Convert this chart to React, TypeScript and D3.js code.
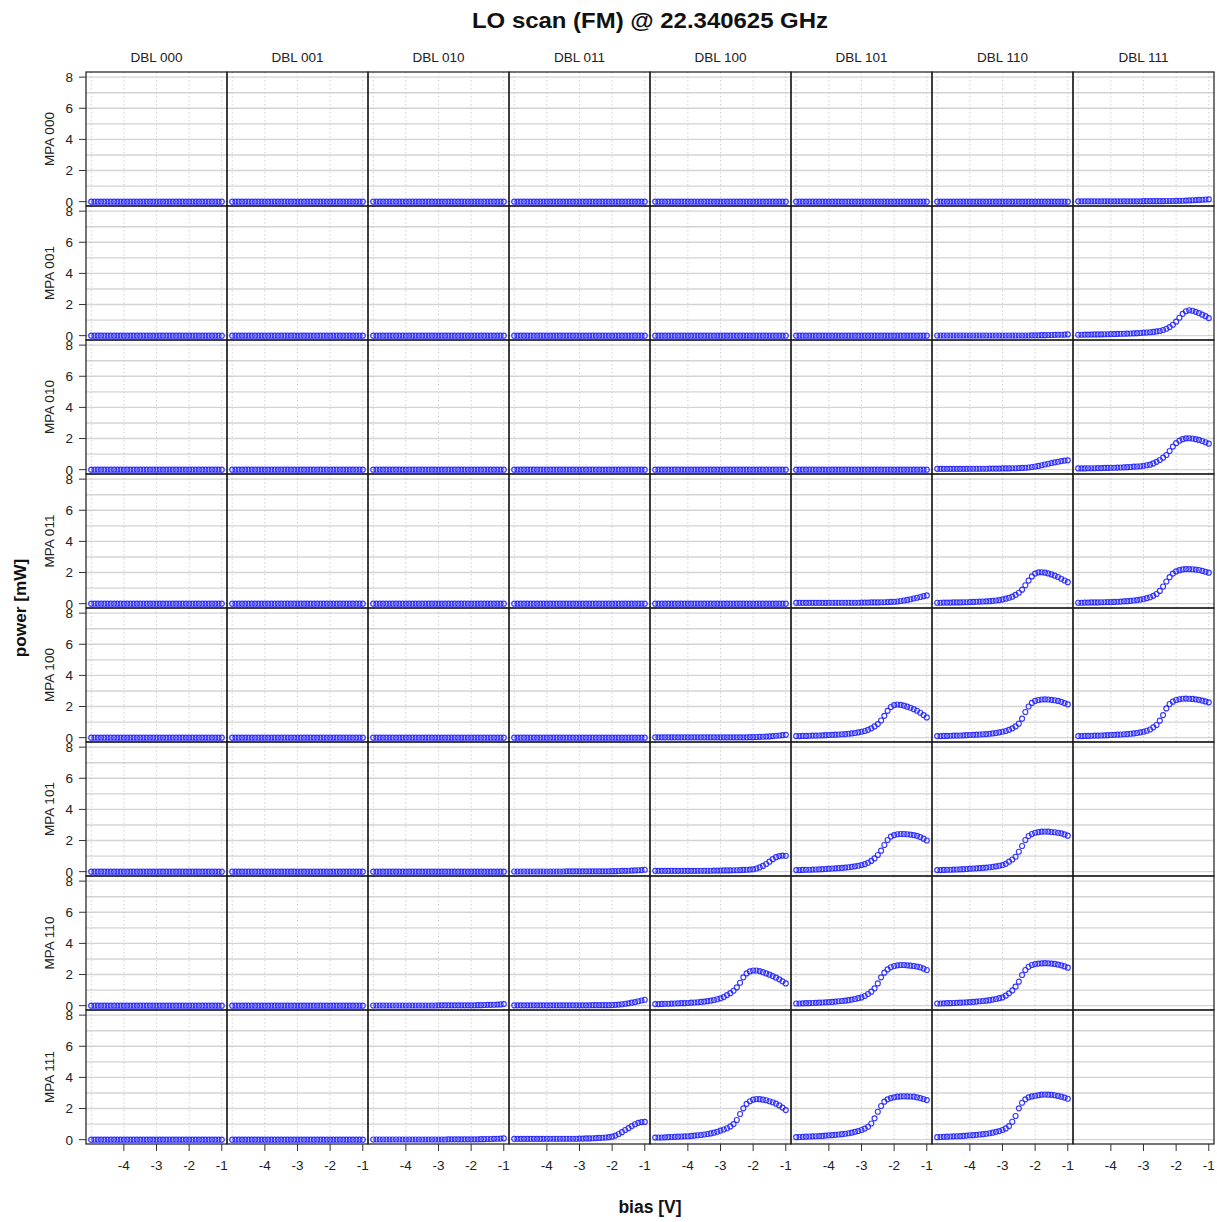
import React from "react";
import * as d3 from "d3";

// ---- labels / ticks ----
const title = "LO scan (FM) @ 22.340625 GHz";
const xLabel = "bias [V]";
const yLabel = "power [mW]";
const rowLabels = ["MPA 000", "MPA 001", "MPA 010", "MPA 011", "MPA 100", "MPA 101", "MPA 110", "MPA 111"];
const colLabels = ["DBL 000", "DBL 001", "DBL 010", "DBL 011", "DBL 100", "DBL 101", "DBL 110", "DBL 111"];
const yTicks = [0, 2, 4, 6, 8];
const yGrid = [0, 1, 2, 3, 4, 5, 6, 7, 8];
const xTicks = [-4, -3, -2, -1];
const xGrid = [-5, -4, -3, -2, -1];

// ---- bias sweep (V) ----
const bias = [
  -5, -4.9, -4.8, -4.7, -4.6, -4.5, -4.4, -4.3, -4.2, -4.1,
  -4, -3.9, -3.8, -3.7, -3.6, -3.5, -3.4, -3.3, -3.2, -3.1,
  -3, -2.9, -2.8, -2.7, -2.6, -2.5, -2.4, -2.3, -2.2, -2.1,
  -2, -1.9, -1.8, -1.7, -1.6, -1.5, -1.4, -1.3, -1.2, -1.1, -1,
];

// ---- power (mW) per panel ----
const flat = [
  0, 0, 0, 0, 0, 0, 0, 0, 0, 0,
  0, 0, 0, 0, 0, 0, 0, 0, 0, 0,
  0, 0, 0, 0, 0, 0, 0, 0, 0, 0,
  0, 0, 0, 0, 0, 0, 0, 0, 0, 0, 0,
];
const mpa000_dbl111 = [
  0.02, 0.02, 0.02, 0.02, 0.02, 0.02, 0.02, 0.02, 0.02, 0.02,
  0.02, 0.02, 0.02, 0.02, 0.02, 0.02, 0.02, 0.02, 0.02, 0.02,
  0.03, 0.03, 0.03, 0.03, 0.03, 0.03, 0.03, 0.04, 0.04, 0.04,
  0.05, 0.05, 0.06, 0.07, 0.08, 0.09, 0.1, 0.11, 0.12, 0.14, 0.15,
];
const mpa001_dbl110 = [
  0.01, 0.01, 0.01, 0.01, 0.01, 0.01, 0.01, 0.01, 0.01, 0.01,
  0.01, 0.01, 0.01, 0.01, 0.01, 0.01, 0.01, 0.01, 0.01, 0.01,
  0.01, 0.01, 0.01, 0.01, 0.01, 0.01, 0.01, 0.01, 0.01, 0.02,
  0.02, 0.02, 0.03, 0.03, 0.04, 0.04, 0.05, 0.06, 0.06, 0.07, 0.08,
];
const mpa001_dbl111 = [
  0.06, 0.06, 0.07, 0.07, 0.07, 0.08, 0.08, 0.08, 0.09, 0.09,
  0.1, 0.1, 0.11, 0.12, 0.12, 0.13, 0.14, 0.15, 0.16, 0.17,
  0.19, 0.2, 0.22, 0.24, 0.27, 0.3, 0.36, 0.44, 0.55, 0.7,
  0.9, 1.15, 1.4, 1.57, 1.63, 1.6, 1.53, 1.45, 1.35, 1.25, 1.13,
];
const mpa010_dbl110 = [
  0.05, 0.05, 0.05, 0.05, 0.05, 0.05, 0.05, 0.05, 0.05, 0.05,
  0.06, 0.06, 0.06, 0.06, 0.06, 0.06, 0.07, 0.07, 0.07, 0.07,
  0.08, 0.08, 0.08, 0.09, 0.09, 0.1, 0.11, 0.12, 0.14, 0.17,
  0.2, 0.24, 0.28, 0.33, 0.38, 0.43, 0.47, 0.51, 0.55, 0.58, 0.6,
];
const mpa010_dbl111 = [
  0.08, 0.08, 0.08, 0.09, 0.09, 0.09, 0.1, 0.1, 0.11, 0.11,
  0.12, 0.12, 0.13, 0.14, 0.15, 0.16, 0.17, 0.19, 0.2, 0.22,
  0.25, 0.28, 0.32, 0.4, 0.5, 0.62, 0.77, 0.94, 1.2, 1.48,
  1.7, 1.86, 1.96, 2.01, 2.02, 2.0, 1.96, 1.91, 1.84, 1.76, 1.67,
];
const mpa011_dbl101 = [
  0.05, 0.05, 0.05, 0.05, 0.05, 0.05, 0.05, 0.05, 0.05, 0.05,
  0.06, 0.06, 0.06, 0.06, 0.06, 0.06, 0.06, 0.06, 0.06, 0.06,
  0.07, 0.07, 0.07, 0.08, 0.08, 0.08, 0.09, 0.09, 0.1, 0.11,
  0.12, 0.14, 0.17, 0.2, 0.24, 0.28, 0.33, 0.38, 0.43, 0.48, 0.53,
];
const mpa011_dbl110 = [
  0.06, 0.06, 0.07, 0.07, 0.07, 0.08, 0.08, 0.08, 0.09, 0.09,
  0.1, 0.11, 0.12, 0.13, 0.14, 0.15, 0.16, 0.18, 0.2, 0.23,
  0.27, 0.32, 0.38, 0.45, 0.56, 0.7, 0.9, 1.18, 1.48, 1.75,
  1.93, 2.01, 2.02, 1.99, 1.94, 1.88, 1.8, 1.71, 1.6, 1.49, 1.38,
];
const mpa011_dbl111 = [
  0.06, 0.06, 0.07, 0.07, 0.08, 0.08, 0.08, 0.09, 0.09, 0.1,
  0.1, 0.11, 0.12, 0.13, 0.15, 0.16, 0.18, 0.2, 0.23, 0.26,
  0.3, 0.35, 0.41, 0.5, 0.62, 0.82, 1.1, 1.42, 1.7, 1.93,
  2.07, 2.15, 2.2, 2.22, 2.22, 2.21, 2.19, 2.16, 2.11, 2.05, 1.99,
];
const mpa100_dbl100 = [
  0.02, 0.02, 0.02, 0.02, 0.02, 0.02, 0.02, 0.02, 0.02, 0.02,
  0.02, 0.02, 0.02, 0.02, 0.02, 0.02, 0.02, 0.02, 0.02, 0.02,
  0.02, 0.02, 0.02, 0.02, 0.02, 0.02, 0.02, 0.02, 0.02, 0.03,
  0.03, 0.04, 0.05, 0.06, 0.07, 0.08, 0.1, 0.12, 0.14, 0.16, 0.18,
];
const mpa100_dbl101 = [
  0.1, 0.1, 0.11, 0.11, 0.12, 0.13, 0.13, 0.14, 0.15, 0.16,
  0.17, 0.18, 0.19, 0.2, 0.22, 0.23, 0.25, 0.27, 0.3, 0.34,
  0.38, 0.43, 0.5, 0.6, 0.72, 0.87, 1.1, 1.4, 1.72, 1.97,
  2.09, 2.13, 2.11, 2.06, 1.99, 1.92, 1.83, 1.73, 1.6, 1.45, 1.3,
];
const mpa100_dbl110 = [
  0.1, 0.1, 0.11, 0.11, 0.12, 0.13, 0.13, 0.14, 0.15, 0.16,
  0.17, 0.18, 0.19, 0.2, 0.22, 0.23, 0.25, 0.27, 0.3, 0.34,
  0.38, 0.43, 0.5, 0.6, 0.72, 0.9, 1.22, 1.65, 2.0, 2.23,
  2.36, 2.42, 2.45, 2.46, 2.45, 2.43, 2.4, 2.36, 2.3, 2.22, 2.14,
];
const mpa100_dbl111 = [
  0.1, 0.1, 0.11, 0.11, 0.12, 0.13, 0.13, 0.14, 0.15, 0.16,
  0.17, 0.18, 0.19, 0.2, 0.22, 0.23, 0.25, 0.27, 0.3, 0.34,
  0.38, 0.44, 0.52, 0.66, 0.81, 1.09, 1.45, 1.88, 2.16, 2.31,
  2.42, 2.47, 2.5, 2.51, 2.5, 2.49, 2.46, 2.43, 2.38, 2.33, 2.27,
];
const mpa101_dbl011 = [
  0.01, 0.01, 0.01, 0.01, 0.01, 0.01, 0.01, 0.01, 0.01, 0.01,
  0.01, 0.01, 0.01, 0.01, 0.01, 0.01, 0.02, 0.02, 0.02, 0.02,
  0.02, 0.02, 0.02, 0.02, 0.02, 0.02, 0.02, 0.02, 0.02, 0.02,
  0.03, 0.03, 0.04, 0.05, 0.05, 0.06, 0.07, 0.08, 0.09, 0.1, 0.12,
];
const mpa101_dbl100 = [
  0.05, 0.05, 0.05, 0.05, 0.05, 0.05, 0.05, 0.05, 0.05, 0.05,
  0.05, 0.05, 0.05, 0.06, 0.06, 0.06, 0.06, 0.06, 0.07, 0.07,
  0.07, 0.08, 0.08, 0.08, 0.09, 0.09, 0.1, 0.11, 0.12, 0.13,
  0.15, 0.2, 0.27, 0.37, 0.49, 0.64, 0.8, 0.93, 1.0, 1.03, 1.02,
];
const mpa101_dbl101 = [
  0.1, 0.1, 0.11, 0.12, 0.12, 0.13, 0.14, 0.15, 0.16, 0.17,
  0.19, 0.2, 0.21, 0.23, 0.24, 0.26, 0.28, 0.31, 0.34, 0.38,
  0.42, 0.48, 0.57, 0.69, 0.85, 1.07, 1.35, 1.71, 2.03, 2.25,
  2.35, 2.4, 2.42, 2.42, 2.4, 2.38, 2.35, 2.3, 2.22, 2.12, 2.0,
];
const mpa101_dbl110 = [
  0.1, 0.1, 0.11, 0.12, 0.12, 0.13, 0.14, 0.15, 0.16, 0.17,
  0.19, 0.2, 0.21, 0.23, 0.24, 0.26, 0.28, 0.31, 0.34, 0.38,
  0.42, 0.5, 0.64, 0.78, 0.96, 1.28, 1.65, 2.03, 2.29, 2.42,
  2.5, 2.54, 2.57, 2.58, 2.57, 2.55, 2.53, 2.5, 2.46, 2.39, 2.31,
];
const mpa110_dbl010 = [
  0.01, 0.01, 0.01, 0.01, 0.01, 0.01, 0.01, 0.01, 0.01, 0.01,
  0.01, 0.01, 0.01, 0.01, 0.01, 0.01, 0.01, 0.01, 0.01, 0.01,
  0.02, 0.02, 0.02, 0.02, 0.02, 0.02, 0.02, 0.02, 0.02, 0.02,
  0.02, 0.02, 0.03, 0.03, 0.04, 0.05, 0.05, 0.06, 0.07, 0.08, 0.1,
];
const mpa110_dbl011 = [
  0.02, 0.02, 0.02, 0.02, 0.02, 0.02, 0.02, 0.02, 0.02, 0.02,
  0.02, 0.02, 0.02, 0.02, 0.02, 0.02, 0.02, 0.02, 0.02, 0.02,
  0.02, 0.02, 0.02, 0.02, 0.03, 0.03, 0.03, 0.03, 0.03, 0.03,
  0.04, 0.05, 0.07, 0.09, 0.12, 0.15, 0.19, 0.23, 0.28, 0.33, 0.38,
];
const mpa110_dbl100 = [
  0.1, 0.1, 0.11, 0.12, 0.12, 0.13, 0.14, 0.15, 0.16, 0.16,
  0.17, 0.19, 0.2, 0.22, 0.24, 0.26, 0.29, 0.32, 0.36, 0.41,
  0.47, 0.55, 0.68, 0.8, 0.96, 1.17, 1.47, 1.82, 2.07, 2.2,
  2.26, 2.26, 2.22, 2.15, 2.07, 1.99, 1.9, 1.8, 1.69, 1.56, 1.43,
];
const mpa110_dbl101 = [
  0.14, 0.14, 0.15, 0.16, 0.16, 0.17, 0.18, 0.19, 0.2, 0.21,
  0.23, 0.24, 0.26, 0.28, 0.3, 0.32, 0.35, 0.39, 0.43, 0.48,
  0.53, 0.62, 0.75, 0.9, 1.11, 1.43, 1.82, 2.12, 2.33, 2.47,
  2.55, 2.59, 2.61, 2.61, 2.59, 2.57, 2.55, 2.51, 2.46, 2.38, 2.29,
];
const mpa110_dbl110 = [
  0.14, 0.14, 0.15, 0.16, 0.16, 0.17, 0.18, 0.19, 0.2, 0.21,
  0.23, 0.24, 0.26, 0.28, 0.3, 0.32, 0.35, 0.39, 0.43, 0.48,
  0.53, 0.64, 0.79, 0.98, 1.22, 1.54, 1.97, 2.29, 2.5, 2.61,
  2.67, 2.7, 2.72, 2.73, 2.72, 2.7, 2.68, 2.64, 2.59, 2.52, 2.44,
];
const mpa111_dbl010 = [
  0.01, 0.01, 0.01, 0.01, 0.01, 0.01, 0.01, 0.01, 0.01, 0.01,
  0.01, 0.01, 0.01, 0.01, 0.01, 0.01, 0.01, 0.01, 0.01, 0.01,
  0.01, 0.01, 0.01, 0.02, 0.02, 0.02, 0.02, 0.02, 0.02, 0.02,
  0.02, 0.02, 0.02, 0.03, 0.03, 0.04, 0.04, 0.05, 0.06, 0.07, 0.08,
];
const mpa111_dbl011 = [
  0.05, 0.05, 0.05, 0.05, 0.05, 0.05, 0.05, 0.05, 0.05, 0.05,
  0.06, 0.06, 0.06, 0.06, 0.06, 0.06, 0.06, 0.06, 0.06, 0.06,
  0.07, 0.07, 0.08, 0.08, 0.09, 0.1, 0.11, 0.12, 0.14, 0.16,
  0.19, 0.26, 0.36, 0.48, 0.62, 0.74, 0.87, 0.99, 1.08, 1.13, 1.14,
];
const mpa111_dbl100 = [
  0.13, 0.14, 0.14, 0.15, 0.16, 0.17, 0.18, 0.19, 0.2, 0.21,
  0.22, 0.24, 0.26, 0.28, 0.3, 0.33, 0.36, 0.4, 0.45, 0.51,
  0.58, 0.65, 0.73, 0.85, 1.0, 1.26, 1.65, 2.01, 2.3, 2.47,
  2.57, 2.61, 2.6, 2.57, 2.53, 2.47, 2.4, 2.31, 2.2, 2.06, 1.9,
];
const mpa111_dbl101 = [
  0.16, 0.17, 0.18, 0.19, 0.2, 0.21, 0.22, 0.23, 0.24, 0.26,
  0.28, 0.29, 0.31, 0.33, 0.35, 0.38, 0.41, 0.45, 0.5, 0.55,
  0.62, 0.71, 0.83, 1.04, 1.37, 1.79, 2.16, 2.44, 2.59, 2.67,
  2.72, 2.76, 2.78, 2.79, 2.78, 2.77, 2.76, 2.72, 2.67, 2.61, 2.54,
];
const mpa111_dbl110 = [
  0.16, 0.17, 0.18, 0.19, 0.2, 0.21, 0.22, 0.23, 0.24, 0.26,
  0.28, 0.29, 0.31, 0.33, 0.35, 0.38, 0.41, 0.45, 0.5, 0.55,
  0.62, 0.72, 0.87, 1.15, 1.52, 2.01, 2.37, 2.59, 2.72, 2.78,
  2.82, 2.86, 2.89, 2.9, 2.89, 2.88, 2.85, 2.81, 2.76, 2.7, 2.63,
];

// rows = MPA (top to bottom), cols = DBL (left to right); null = no panel data
const panels: (number[] | null)[][] = [
  [flat, flat, flat, flat, flat, flat, flat, mpa000_dbl111],
  [flat, flat, flat, flat, flat, flat, mpa001_dbl110, mpa001_dbl111],
  [flat, flat, flat, flat, flat, flat, mpa010_dbl110, mpa010_dbl111],
  [flat, flat, flat, flat, flat, mpa011_dbl101, mpa011_dbl110, mpa011_dbl111],
  [flat, flat, flat, flat, mpa100_dbl100, mpa100_dbl101, mpa100_dbl110, mpa100_dbl111],
  [flat, flat, flat, mpa101_dbl011, mpa101_dbl100, mpa101_dbl101, mpa101_dbl110, null],
  [flat, flat, mpa110_dbl010, mpa110_dbl011, mpa110_dbl100, mpa110_dbl101, mpa110_dbl110, null],
  [flat, flat, mpa111_dbl010, mpa111_dbl011, mpa111_dbl100, mpa111_dbl101, mpa111_dbl110, null],
];

export default function App() {
  const W = 1217;
  const H = 1222;
  const left = 86;
  const top = 72;
  const pw = 141;
  const ph = 134;
  const nR = rowLabels.length;
  const nC = colLabels.length;
  const font = "'Liberation Sans', Arial, Helvetica, sans-serif";
  const ptColor = "#2222ff";
  const small = 13.5;

  const xs = (c: number) =>
    d3.scaleLinear().domain([-5.16, -0.84]).range([left + c * pw, left + (c + 1) * pw]);
  const ys = (r: number) =>
    d3.scaleLinear().domain([-0.28, 8.33]).range([top + (r + 1) * ph, top + r * ph]);

  const bottom = top + nR * ph;
  const midX = left + (nC * pw) / 2;
  const midY = top + (nR * ph) / 2;

  return (
    <svg
      width={W}
      height={H}
      style={{ position: "absolute", left: 0, top: 0, background: "#fff" }}
      fontFamily={font}
    >
      <rect x={0} y={0} width={W} height={H} fill="#fff" />
      <text
        x={midX}
        y={28}
        textAnchor="middle"
        fontSize={21.5}
        fontWeight="bold"
        fill="#111"
        textLength={356}
        lengthAdjust="spacingAndGlyphs"
      >
        {title}
      </text>

      {/* column strip labels */}
      {colLabels.map((lab, c) => (
        <text key={"cl" + c} x={left + c * pw + pw / 2} y={61.5} textAnchor="middle" fontSize={small} fill="#222">
          {lab}
        </text>
      ))}

      {/* panels */}
      {panels.map((row, r) =>
        row.map((vals, c) => {
          const x = xs(c);
          const y = ys(r);
          const x0 = left + c * pw;
          const y0 = top + r * ph;
          return (
            <g key={`p${r}-${c}`}>
              {yGrid.map((g) => (
                <line key={"h" + g} x1={x0} x2={x0 + pw} y1={y(g)} y2={y(g)} stroke="#d4d4d4" strokeWidth={1.4} />
              ))}
              {vals &&
                xGrid.map((g) => (
                  <line
                    key={"v" + g}
                    x1={x(g)}
                    x2={x(g)}
                    y1={y0}
                    y2={y0 + ph}
                    stroke="#c4c4c4"
                    strokeWidth={0.8}
                    strokeDasharray="1.5,2.5"
                  />
                ))}
              {vals &&
                vals.map((v, i) => (
                  <circle
                    key={i}
                    cx={x(bias[i])}
                    cy={y(v)}
                    r={2.5}
                    fill="none"
                    stroke={ptColor}
                    strokeWidth={1.15}
                    strokeOpacity={0.9}
                  />
                ))}
            </g>
          );
        })
      )}

      {/* panel borders */}
      {panels.map((row, r) =>
        row.map((_, c) => (
          <rect
            key={`b${r}-${c}`}
            x={left + c * pw}
            y={top + r * ph}
            width={pw}
            height={ph}
            fill="none"
            stroke="#1a1a1a"
            strokeWidth={1.2}
          />
        ))
      )}

      {/* y axis (left column) */}
      {rowLabels.map((lab, r) => {
        const y = ys(r);
        return (
          <g key={"ya" + r}>
            {yTicks.map((t) => (
              <g key={t}>
                <line x1={left - 7} x2={left} y1={y(t)} y2={y(t)} stroke="#333" strokeWidth={1} />
                <text x={left - 13} y={y(t)} dy="0.36em" textAnchor="end" fontSize={small} fill="#222">
                  {t}
                </text>
              </g>
            ))}
            <text
              transform={`translate(49,${top + r * ph + ph / 2}) rotate(-90)`}
              textAnchor="middle"
              dy="0.35em"
              fontSize={small}
              fill="#222"
            >
              {lab}
            </text>
          </g>
        );
      })}

      {/* x axis (bottom row) */}
      {colLabels.map((_, c) => {
        const x = xs(c);
        return (
          <g key={"xa" + c}>
            {xTicks.map((t) => (
              <g key={t}>
                <line x1={x(t)} x2={x(t)} y1={bottom} y2={bottom + 7} stroke="#333" strokeWidth={1} />
                <text x={x(t)} y={bottom + 26} textAnchor="middle" fontSize={small} fill="#222">
                  {t}
                </text>
              </g>
            ))}
          </g>
        );
      })}

      <text x={midX} y={1213} textAnchor="middle" fontSize={17.5} fontWeight="bold" fill="#111">
        {xLabel}
      </text>
      <text
        transform={`translate(20,${midY}) rotate(-90)`}
        textAnchor="middle"
        dy="0.35em"
        fontSize={17.2}
        fontWeight="bold"
        fill="#111"
      >
        {yLabel}
      </text>
    </svg>
  );
}
